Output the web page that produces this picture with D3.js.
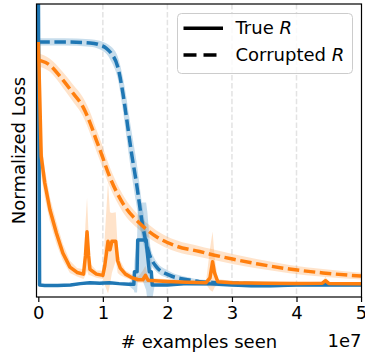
<!DOCTYPE html>
<html><head><meta charset="utf-8">
<script src="https://cdn.jsdelivr.net/npm/d3@7"></script>
<style>body{margin:0;background:#fff}svg{display:block}text{font-family:"DejaVu Sans",sans-serif;fill:#000}</style>
</head><body>
<svg id="c" width="365" height="360"></svg>
<script>
// x values in units of 1e7 examples; y = normalized loss
const xTicks = [0, 1, 2, 3, 4, 5];
const gridTicks = [1, 2, 3, 4];

const blueTrueX  = [0,0.02,0.1,0.3,0.5,0.65,0.8,0.95,1.1,1.25,1.4,1.48,1.49,1.53,1.54,1.6,1.67,1.69,1.72,1.75,1.765,1.8,2.0,2.3,2.6,3.0,3.3,3.6,4.0,4.5,5.0];
const blueTrueY  = [1.3,0.0,-0.002,-0.002,0.0,0.006,0.01,0.008,0.01,0.006,0.003,0.003,0.055,0.055,0.185,0.185,0.185,0.13,0.055,0.055,0.0,0.0,0.0,0.006,0.006,0.0,-0.003,-0.003,0.0,0.0,0.0];
const blueTrueLo = [1.3,-0.005,-0.007,-0.007,-0.005,0.0,0.004,0.002,0.004,0.0,-0.003,-0.02,-0.03,-0.03,0.02,0.03,-0.02,-0.06,-0.07,-0.07,-0.06,-0.005,-0.005,0.0,-0.004,-0.006,-0.01,-0.01,-0.006,-0.005,-0.005];
const blueTrueHi = [1.3,0.005,0.003,0.003,0.005,0.012,0.016,0.014,0.016,0.012,0.009,0.03,0.1,0.19,0.3,0.34,0.34,0.3,0.2,0.12,0.05,0.005,0.005,0.012,0.016,0.006,0.004,0.004,0.006,0.005,0.005];

const blueCorrX  = [0,0.4,0.8,0.95,1.05,1.13,1.23,1.31,1.36,1.41,1.44,1.52,1.62,1.70,1.83,2.03,2.34,2.5,3.0,3.5,4.0,5.0];
const blueCorrY  = [1.0,1.0,0.996,0.988,0.975,0.953,0.898,0.79,0.70,0.605,0.55,0.42,0.24,0.144,0.075,0.041,0.021,0.014,0.008,0.005,0.004,0.003];
const blueCorrLo = [0.985,0.985,0.98,0.97,0.952,0.92,0.85,0.72,0.62,0.52,0.465,0.33,0.18,0.105,0.055,0.027,0.011,0.005,-0.001,-0.004,-0.005,-0.006];
const blueCorrHi = [1.015,1.015,1.011,1.005,0.995,0.98,0.94,0.855,0.78,0.69,0.64,0.51,0.31,0.19,0.097,0.057,0.031,0.023,0.017,0.014,0.013,0.012];

const orangeTrueX  = [0,0.02,0.045,0.1,0.18,0.28,0.38,0.49,0.6,0.7,0.73,0.755,0.78,0.8,0.9,1.0,1.03,1.08,1.11,1.14,1.2,1.23,1.27,1.35,1.45,1.55,1.62,1.66,1.7,1.8,2.0,2.3,2.6,2.66,2.7,2.73,2.78,3.0,3.5,4.0,4.4,4.45,4.5,5.0];
const orangeTrueY  = [1.0,0.8,0.53,0.42,0.31,0.214,0.132,0.074,0.052,0.045,0.12,0.219,0.12,0.065,0.045,0.04,0.08,0.18,0.145,0.18,0.18,0.1,0.07,0.045,0.03,0.022,0.022,0.04,0.02,0.018,0.015,0.012,0.01,0.03,0.096,0.05,0.014,0.01,0.008,0.007,0.008,0.018,0.007,0.006];
const orangeTrueLo = [1.0,0.7,0.45,0.36,0.26,0.17,0.10,0.05,0.035,0.025,0.04,0.06,0.04,0.04,0.03,0.025,0.0,-0.035,0.0,0.05,0.1,0.05,0.04,0.03,0.02,0.01,0.01,0.01,0.01,0.008,0.006,0.005,0.003,-0.02,-0.027,-0.01,0.005,0.003,0.002,0.002,0.002,0.004,0.002,0.001];
const orangeTrueHi = [1.0,0.9,0.6,0.48,0.36,0.26,0.17,0.10,0.07,0.065,0.25,0.36,0.2,0.09,0.06,0.06,0.2,0.425,0.3,0.296,0.3,0.15,0.1,0.06,0.045,0.035,0.06,0.08,0.03,0.028,0.024,0.02,0.018,0.15,0.22,0.12,0.025,0.017,0.014,0.012,0.014,0.034,0.012,0.011];

const orangeCorrX  = [0,0.175,0.38,0.536,0.69,0.82,0.9,0.95,1.105,1.31,1.57,1.83,2.14,2.5,2.65,3.01,3.38,3.89,4.41,5.0];
const orangeCorrY  = [0.926,0.905,0.844,0.79,0.734,0.655,0.595,0.56,0.446,0.336,0.254,0.199,0.16,0.138,0.128,0.107,0.088,0.066,0.05,0.037];
const orangeCorrLo = [0.9,0.878,0.812,0.755,0.695,0.61,0.55,0.515,0.405,0.3,0.226,0.174,0.137,0.116,0.107,0.087,0.069,0.049,0.034,0.023];
const orangeCorrHi = [0.952,0.932,0.876,0.825,0.772,0.7,0.64,0.605,0.487,0.372,0.283,0.225,0.184,0.16,0.15,0.128,0.107,0.083,0.066,0.051];

const blue = "#1f77b4", orange = "#ff7f0e";
const L = 36.5, R = 361.5, T = 4, B = 297;
const svg = d3.select("#c");
const x = d3.scaleLinear().domain([-0.028, 5.007]).range([L, R]);
const y = d3.scaleLinear().domain([-0.049, 1.156]).range([B, T]);

svg.append("defs").append("clipPath").attr("id", "clip")
  .append("rect").attr("x", L).attr("y", T).attr("width", R - L).attr("height", B - T);

// grid
svg.append("g").selectAll("line").data(gridTicks).join("line")
  .attr("x1", d => x(d)).attr("x2", d => x(d)).attr("y1", T).attr("y2", B)
  .attr("stroke", "#e3e3e3").attr("stroke-width", 1.5).attr("stroke-dasharray", "5.5,2.4");

const plot = svg.append("g").attr("clip-path", "url(#clip)");
function zip(xs, ys, lo, hi) { return xs.map((v, i) => ({x: v, y: ys[i], lo: lo[i], hi: hi[i]})); }
const sTrueB = zip(blueTrueX, blueTrueY, blueTrueLo, blueTrueHi);
const sCorrB = zip(blueCorrX, blueCorrY, blueCorrLo, blueCorrHi);
const sTrueO = zip(orangeTrueX, orangeTrueY, orangeTrueLo, orangeTrueHi);
const sCorrO = zip(orangeCorrX, orangeCorrY, orangeCorrLo, orangeCorrHi);

const areaLin = d3.area().x(d => x(d.x)).y0(d => y(d.lo)).y1(d => y(d.hi));
const areaMono = d3.area().curve(d3.curveMonotoneX).x(d => x(d.x)).y0(d => y(d.lo)).y1(d => y(d.hi));
const lineLin = d3.line().x(d => x(d.x)).y(d => y(d.y));
const lineMono = d3.line().curve(d3.curveMonotoneX).x(d => x(d.x)).y(d => y(d.y));

plot.append("path").attr("d", areaLin(sTrueO)).attr("fill", orange).attr("fill-opacity", 0.22);
plot.append("path").attr("d", areaMono(sCorrO)).attr("fill", orange).attr("fill-opacity", 0.22);
plot.append("path").attr("d", areaLin(sTrueB)).attr("fill", blue).attr("fill-opacity", 0.25);
plot.append("path").attr("d", areaMono(sCorrB)).attr("fill", blue).attr("fill-opacity", 0.25);

const LW = 3.5, DASH = "11.5,4.6";
plot.append("path").attr("d", lineLin(sTrueB)).attr("fill", "none").attr("stroke", blue).attr("stroke-width", LW).attr("stroke-linejoin", "round");
plot.append("path").attr("d", lineMono(sCorrB)).attr("fill", "none").attr("stroke", blue).attr("stroke-width", LW).attr("stroke-dasharray", DASH);
plot.append("path").attr("d", lineLin(sTrueO)).attr("fill", "none").attr("stroke", orange).attr("stroke-width", LW).attr("stroke-linejoin", "round");
plot.append("path").attr("d", lineMono(sCorrO)).attr("fill", "none").attr("stroke", orange).attr("stroke-width", LW).attr("stroke-dasharray", DASH);

// axes frame
svg.append("rect").attr("x", L).attr("y", T).attr("width", R - L).attr("height", B - T)
  .attr("fill", "none").attr("stroke", "#000").attr("stroke-width", 1.2);

const xAxis = d3.axisBottom(x).tickValues(xTicks).tickFormat(d3.format("d")).tickSize(5).tickPadding(4);
const gx = svg.append("g").attr("transform", `translate(0,${B})`).call(xAxis);
gx.select(".domain").remove();
gx.selectAll("line").attr("stroke", "#000").attr("stroke-width", 1.2);
gx.selectAll("text").attr("font-size", 18).attr("font-family", "DejaVu Sans").attr("fill", "#000");

svg.append("text").attr("x", (L + R) / 2).attr("y", 348).attr("text-anchor", "middle").attr("font-size", 18).text("# examples seen");
svg.append("text").attr("x", R).attr("y", 347).attr("text-anchor", "end").attr("font-size", 18).text("1e7");
svg.append("text").attr("transform", `translate(25,${(T + B) / 2}) rotate(-90)`).attr("text-anchor", "middle").attr("font-size", 18).text("Normalized Loss");

// legend
const lg = svg.append("g");
lg.append("rect").attr("x", 177.5).attr("y", 13.5).attr("width", 175).attr("height", 60).attr("rx", 4)
  .attr("fill", "#fff").attr("fill-opacity", 0.8).attr("stroke", "#cccccc").attr("stroke-width", 1);
const legendItems = [{label: "True ", dash: null, yy: 28.3}, {label: "Corrupted ", dash: "13,7", yy: 55}];
legendItems.forEach(it => {
  lg.append("line").attr("x1", 183.5).attr("x2", 223).attr("y1", it.yy).attr("y2", it.yy)
    .attr("stroke", "#000").attr("stroke-width", 3.5).attr("stroke-dasharray", it.dash);
  const t = lg.append("text").attr("x", 235.5).attr("y", it.yy + 6).attr("font-size", 18);
  t.append("tspan").text(it.label);
  t.append("tspan").attr("font-style", "italic").text("R");
});
</script>
</body></html>
